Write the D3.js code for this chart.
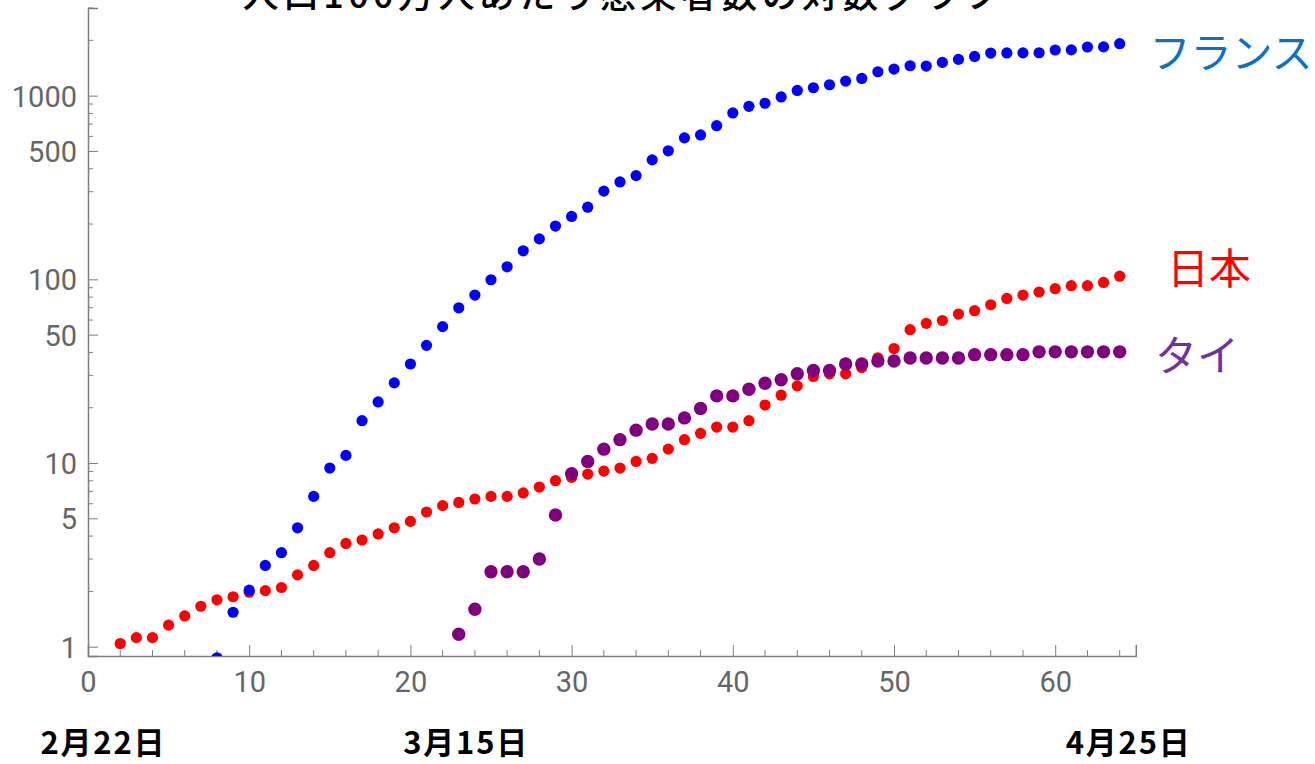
<!DOCTYPE html>
<html>
<head>
<meta charset="utf-8">
<script src="https://cdn.jsdelivr.net/npm/d3@7"></script>
<style>
  html, body { margin: 0; padding: 0; background: #fff; }
  svg { display: block; }
</style>
</head>
<body>
<svg id="chart" width="1315" height="764"></svg>
<script>
// Cases per million population, by day number (log scale)
const japanDays = d3.range(2, 65);
const japanValues = [1.04, 1.12, 1.12, 1.31, 1.47, 1.66, 1.80, 1.87, 1.98, 2.02,
  2.10, 2.46, 2.77, 3.25, 3.65, 3.81, 4.11, 4.44, 4.81, 5.41,
  5.86, 6.10, 6.37, 6.58, 6.58, 6.87, 7.40, 8.01, 8.35, 8.71,
  9.04, 9.39, 10.2, 10.6, 11.9, 13.4, 14.5, 15.7, 15.7, 17.0,
  20.7, 23.4, 26.3, 29.6, 30.6, 30.6, 33.1, 37.4, 42.0, 53.2,
  57.6, 59.7, 64.7, 67.5, 72.7, 78.7, 82.1, 85.3, 88.9, 92.3,
  92.3, 96.2, 104];

const franceDays = d3.range(8, 65);
const franceValues = [0.87, 1.54, 2.03, 2.77, 3.25, 4.44, 6.58, 9.39, 11.0, 17.0,
  21.5, 27.3, 34.6, 43.7, 55.3, 70.0, 82.1, 99.5, 117, 143,
  166, 195, 220, 247, 302, 339, 367, 447, 501, 589,
  611, 686, 805, 875, 909, 984, 1067, 1104, 1146, 1200,
  1241, 1349, 1396, 1455, 1449, 1517, 1575, 1634, 1706, 1708,
  1710, 1712, 1772, 1774, 1840, 1842, 1918];

const thaiDays = d3.range(23, 65);
const thaiValues = [1.17, 1.60, 2.56, 2.56, 2.56, 3.00, 5.21, 8.75, 10.2, 11.9,
  13.4, 15.1, 16.3, 16.3, 17.6, 19.8, 23.2, 23.2, 25.2, 27.2,
  28.4, 30.6, 31.9, 31.9, 34.6, 34.6, 35.9, 35.9, 37.3, 37.3,
  37.3, 37.3, 38.9, 38.9, 38.9, 38.9, 40.3, 40.3, 40.3, 40.3,
  40.3, 40.3];

const seriesNames = ["日本", "フランス", "タイ"];
const xTickValues = [0, 10, 20, 30, 40, 50, 60];
const yTickLabels = [1, 5, 10, 50, 100, 500, 1000];
const dateLabels = ["2月22日", "3月15日", "4月25日"];
const dateLabelDays = [0.9, 23.4, 64.5];
const titleText = "人口100万人あたり感染者数の対数グラフ";

const svg = d3.select("#chart");
const plotLeft = 88, plotRight = 1135.8, plotTop = 8, plotBottom = 656;

const x = d3.scaleLinear().domain([0, 65]).range([plotLeft, plotRight]);
const y = d3.scaleLog().domain([0.89, 3000]).range([plotBottom, plotTop]);

const axisColor = "#7f7f7f";
const labelColor = "#666666";

// Clip the markers to the plot area
svg.append("defs").append("clipPath").attr("id", "plotClip")
  .append("rect").attr("x", plotLeft - 10).attr("y", plotTop)
  .attr("width", plotRight - plotLeft + 20).attr("height", plotBottom - plotTop);

// Minor ticks: every 2 units on x; 2..9 per decade on y
const xMinor = d3.range(2, 65, 2).filter(d => d % 10 !== 0);
const yMinor = [];
for (const dec of [1, 10, 100, 1000]) {
  for (const m of [2, 3, 4, 6, 7, 8, 9]) {
    const v = dec * m;
    if (v <= 3000) yMinor.push(v);
  }
}

const xAxis = svg.append("g").attr("transform", `translate(0,${plotBottom})`)
  .call(d3.axisBottom(x).tickValues(xTickValues).tickSize(-11).tickPadding(15).tickFormat(d3.format("d")));
xAxis.append("g").selectAll("line").data(xMinor).join("line")
  .attr("x1", d => x(d)).attr("x2", d => x(d)).attr("y1", 0).attr("y2", -6)
  .attr("stroke", axisColor).attr("stroke-width", 1);

const yAxis = svg.append("g").attr("transform", `translate(${plotLeft},0)`)
  .call(d3.axisLeft(y).tickValues(yTickLabels).tickSize(-10).tickPadding(11).tickFormat(d3.format("d")));
yAxis.append("g").selectAll("line").data(yMinor).join("line")
  .attr("y1", d => y(d)).attr("y2", d => y(d)).attr("x1", 0).attr("x2", 5)
  .attr("stroke", axisColor).attr("stroke-width", 1);

for (const g of [xAxis, yAxis]) {
  g.select(".domain").attr("stroke", axisColor).attr("stroke-width", 1.5);
  g.selectAll(".tick line").attr("stroke", axisColor).attr("stroke-width", 1);
  g.selectAll(".tick text").attr("fill", labelColor)
    .style("font-family", "Roboto, 'Liberation Sans', sans-serif").style("font-size", "29px");
}
xAxis.selectAll(".tick text").attr("dy", "0.71em");
yAxis.selectAll(".tick text").attr("dy", "0.36em");

// Data series
const series = [
  { name: seriesNames[0], days: japanDays, values: japanValues, color: "#ff0000", r: 5.6 },
  { name: seriesNames[1], days: franceDays, values: franceValues, color: "#0000ff", r: 5.6 },
  { name: seriesNames[2], days: thaiDays, values: thaiValues, color: "#800080", r: 6.7 }
];

const marks = svg.append("g").attr("clip-path", "url(#plotClip)");
for (const s of series) {
  marks.append("g").selectAll("circle").data(s.values).join("circle")
    .attr("cx", (d, i) => x(s.days[i]))
    .attr("cy", d => y(d))
    .attr("r", s.r)
    .attr("fill", s.color);
}

// Series labels at the right end
const seriesLabels = [
  { text: seriesNames[1], color: "#0a72c0", x: 1231, y: 50, size: 41 },
  { text: seriesNames[0], color: "#ff0000", x: 1209, y: 265, size: 42 },
  { text: seriesNames[2], color: "#7030a0", x: 1197, y: 352, size: 42 }
];
svg.append("g").selectAll("text").data(seriesLabels).join("text")
  .attr("x", d => d.x).attr("y", d => d.y)
  .attr("text-anchor", "middle").attr("dominant-baseline", "central")
  .attr("fill", d => d.color)
  .style("font-family", "'Noto Sans CJK JP', sans-serif")
  .style("font-size", d => d.size + "px")
  .text(d => d.text);

// Date annotations under the axis
svg.append("g").selectAll("text").data(dateLabels).join("text")
  .attr("x", (d, i) => x(dateLabelDays[i]))
  .attr("y", 754)
  .attr("text-anchor", "middle")
  .attr("textLength", 124).attr("lengthAdjust", "spacing")
  .attr("fill", "#000")
  .style("font-family", "'Noto Sans CJK JP', sans-serif")
  .style("font-weight", "bold")
  .style("font-size", "31px")
  .text(d => d);

// Title (top edge of the page)
svg.append("text")
  .attr("x", 621).attr("y", 8)
  .attr("text-anchor", "middle")
  .attr("textLength", 757).attr("lengthAdjust", "spacing")
  .attr("fill", "#000")
  .style("font-family", "'Noto Sans CJK JP', sans-serif")
  .style("font-weight", "500")
  .style("font-size", "36px")
  .text(titleText);
</script>
</body>
</html>
